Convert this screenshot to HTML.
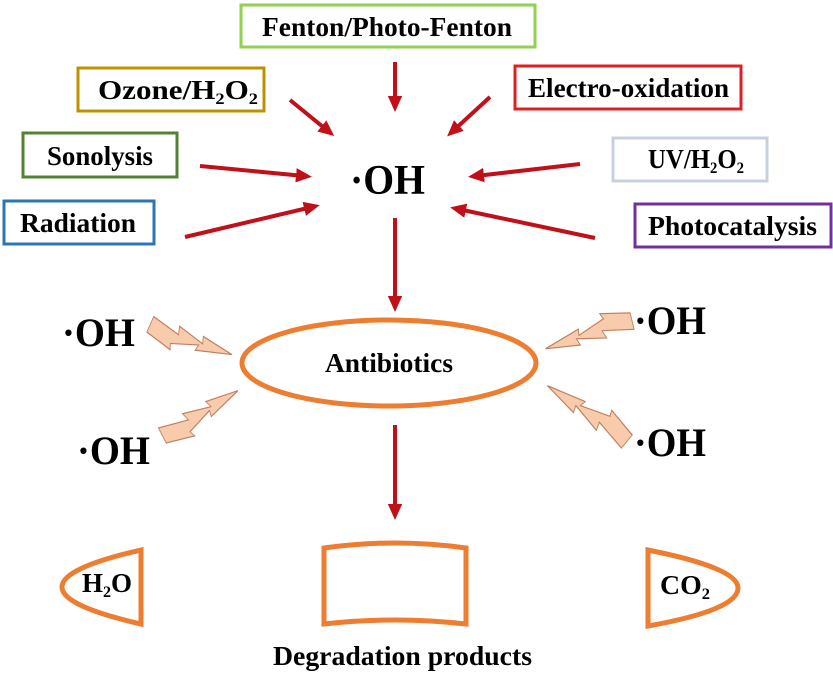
<!DOCTYPE html>
<html><head><style>
body{margin:0;width:833px;height:686px;background:#fff;overflow:hidden}
svg text{font-family:"Liberation Serif",serif;font-weight:bold;fill:#000}
</style></head><body>
<svg width="833" height="686" viewBox="0 0 833 686">
<defs><marker id="a" markerWidth="4" markerHeight="4" refX="2" refY="2" orient="auto" markerUnits="strokeWidth"><path d="M0,0.2 L4,2 L0,3.8z" fill="#c0101a"/></marker>
<path id="b" d="M0,-10 L34,-2 L32,-9 L64,-1 L62,-7 L100,0 L58,6 L60,1 L28,7 L30,12 L-2,4 z"/></defs>
<g fill="#fff" stroke-width="3">
<rect x="241" y="5" width="294" height="42" stroke="#92d050"/>
<rect x="78" y="68" width="186" height="43" stroke="#bf9000"/>
<rect x="515" y="66" width="226" height="43" stroke="#e02020"/>
<rect x="23" y="133" width="154" height="44" stroke="#548235"/>
<rect x="613" y="138" width="154" height="43" stroke="#c8d0e0"/>
<rect x="4" y="201" width="150" height="43" stroke="#2e75b6"/>
<rect x="635" y="204" width="196" height="43" stroke="#7030a0"/>
</g>
<g font-size="27">
<text x="262" y="36" textLength="250" lengthAdjust="spacingAndGlyphs">Fenton/Photo-Fenton</text>
<text x="98" y="99" textLength="160" lengthAdjust="spacingAndGlyphs">Ozone/H<tspan font-size="16" dy="5">2</tspan><tspan dy="-5">O</tspan><tspan font-size="16" dy="5">2</tspan></text>
<text x="528" y="97" textLength="201" lengthAdjust="spacingAndGlyphs">Electro-oxidation</text>
<text x="47" y="165" textLength="106" lengthAdjust="spacingAndGlyphs">Sonolysis</text>
<text x="648" y="168" textLength="96" lengthAdjust="spacingAndGlyphs">UV/H<tspan font-size="16" dy="5">2</tspan><tspan dy="-5">O</tspan><tspan font-size="16" dy="5">2</tspan></text>
<text x="20" y="232" textLength="116" lengthAdjust="spacingAndGlyphs">Radiation</text>
<text x="648" y="235" textLength="169" lengthAdjust="spacingAndGlyphs">Photocatalysis</text>
</g>
<text x="350" y="194" font-size="42" textLength="75" lengthAdjust="spacingAndGlyphs">·OH</text>
<g stroke="#c0101a" stroke-width="4" marker-end="url(#a)">
<line x1="395" y1="62" x2="395" y2="104"/>
<line x1="290" y1="100" x2="328" y2="131"/>
<line x1="490" y1="97" x2="453" y2="131"/>
<line x1="200" y1="166" x2="304" y2="176"/>
<line x1="580" y1="164" x2="476" y2="176"/>
<line x1="185" y1="237" x2="312" y2="207"/>
<line x1="595" y1="238" x2="458" y2="209"/>
<line x1="395" y1="218" x2="395" y2="304"/>
<line x1="395" y1="425" x2="395" y2="512"/>
</g>
<ellipse cx="389" cy="363" rx="147" ry="43" fill="none" stroke="#ed7d31" stroke-width="5"/>
<text x="325" y="372" font-size="27" textLength="128" lengthAdjust="spacingAndGlyphs">Antibiotics</text>
<g fill="#f8cbad" stroke="#c08060" stroke-width="1">
<use href="#b" transform="translate(150,328) rotate(18) scale(0.86,1.2)"/>
<use href="#b" transform="translate(165,438) rotate(-33) scale(0.87,1.2)"/>
<use href="#b" transform="translate(630,318) rotate(160) scale(0.9,1.2)"/>
<use href="#b" transform="translate(628,438) rotate(213) scale(0.96,1.2)"/>
</g>
<g font-size="40">
<text x="62" y="346" textLength="73" lengthAdjust="spacingAndGlyphs">·OH</text>
<text x="77" y="464" textLength="73" lengthAdjust="spacingAndGlyphs">·OH</text>
<text x="634" y="334" textLength="72" lengthAdjust="spacingAndGlyphs">·OH</text>
<text x="634" y="456" textLength="72" lengthAdjust="spacingAndGlyphs">·OH</text>
</g>
<g fill="none" stroke="#ed7d31" stroke-width="5">
<path d="M141,550 L141,624 Q62,606 62,587 Q62,568 141,550z"/>
<path d="M324,548 Q395,538 466,548 L466,624 Q395,616 324,624z"/>
<path d="M648,550 L648,626 Q738,610 738,588 Q738,568 648,550z"/>
</g>
<text x="82" y="592" font-size="27" textLength="50" lengthAdjust="spacingAndGlyphs">H<tspan font-size="16" dy="5">2</tspan><tspan dy="-5">O</tspan></text>
<text x="660" y="594" font-size="27" textLength="50" lengthAdjust="spacingAndGlyphs">CO<tspan font-size="16" dy="5">2</tspan></text>
<text x="273" y="665" font-size="27" textLength="259" lengthAdjust="spacingAndGlyphs">Degradation products</text>
</svg>
</body></html>
